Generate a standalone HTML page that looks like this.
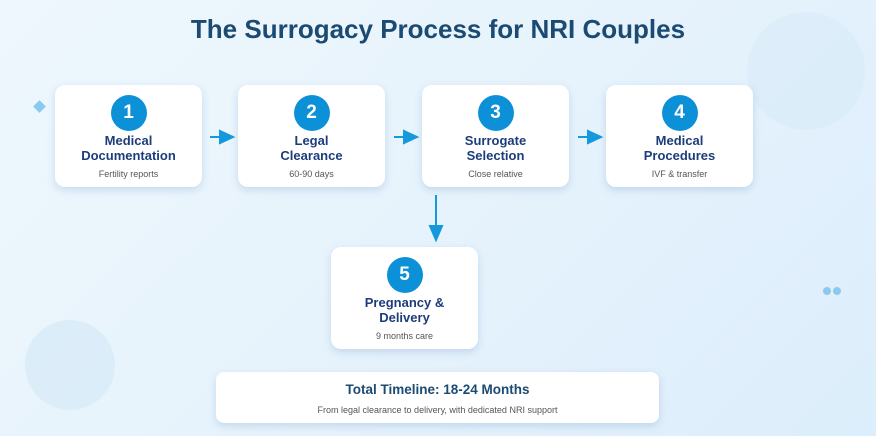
<!DOCTYPE html>
<html><head><style>
body{margin:0;width:876px;height:436px;overflow:hidden;background:linear-gradient(135deg,#eef7fd 0%,#e6f3fc 50%,#dcedfb 100%);font-family:"Liberation Sans",Arial,sans-serif;position:relative}
.t{position:absolute;top:14px;left:0;width:876px;text-align:center;font-size:26px;font-weight:bold;color:#1b4a72}
.b{position:absolute;width:147px;height:102px;background:#fff;border-radius:10px;box-shadow:0 3px 8px rgba(90,140,190,.25);text-align:center}
.c{width:36px;height:36px;border-radius:50%;background:#0c91d8;color:#fff;font-weight:bold;font-size:19px;line-height:36px;margin:10px auto 0}
.n{font-size:13px;font-weight:bold;color:#1d3d7a;line-height:15px;margin-top:2px}
.s{font-size:9px;color:#555;margin-top:6px}
.d{position:absolute;border-radius:50%;background:#d5e9f8;opacity:.7}
</style></head><body>
<div class="d" style="left:747px;top:12px;width:118px;height:118px;opacity:.45"></div>
<div class="d" style="left:25px;top:320px;width:90px;height:90px"></div>
<div style="position:absolute;left:35px;top:102px;width:9px;height:9px;background:#8cc9ef;transform:rotate(45deg)"></div>
<div style="position:absolute;left:823px;top:287px;width:8px;height:8px;border-radius:50%;background:#8cc9ef"></div>
<div style="position:absolute;left:833px;top:287px;width:8px;height:8px;border-radius:50%;background:#8cc9ef"></div>
<div class="t">The Surrogacy Process for NRI Couples</div>
<div class="b" style="left:55px;top:85px"><div class="c">1</div><div class="n">Medical<br>Documentation</div><div class="s">Fertility reports</div></div>
<div class="b" style="left:238px;top:85px"><div class="c">2</div><div class="n">Legal<br>Clearance</div><div class="s">60-90 days</div></div>
<div class="b" style="left:422px;top:85px"><div class="c">3</div><div class="n">Surrogate<br>Selection</div><div class="s">Close relative</div></div>
<div class="b" style="left:606px;top:85px"><div class="c">4</div><div class="n">Medical<br>Procedures</div><div class="s">IVF &amp; transfer</div></div>
<div class="b" style="left:331px;top:247px"><div class="c">5</div><div class="n">Pregnancy &amp;<br>Delivery</div><div class="s">9 months care</div></div>
<svg style="position:absolute;left:0;top:0" width="876" height="436">
<g fill="#1698dd" stroke="#1698dd" stroke-width="2">
<line x1="210" y1="137" x2="222" y2="137"/><polygon points="220,131 233,137 220,143"/>
<line x1="394" y1="137" x2="406" y2="137"/><polygon points="404,131 417,137 404,143"/>
<line x1="578" y1="137" x2="590" y2="137"/><polygon points="588,131 601,137 588,143"/>
<line x1="436" y1="195" x2="436" y2="228"/><polygon points="430,226 436,240 442,226"/>
</g></svg>
<div style="position:absolute;left:216px;top:372px;width:443px;height:51px;background:#fff;border-radius:8px;box-shadow:0 3px 8px rgba(90,140,190,.25);text-align:center">
<div style="font-size:13.5px;font-weight:bold;color:#1b4a72;margin-top:10px">Total Timeline: 18-24 Months</div>
<div style="font-size:9px;color:#555;margin-top:8px">From legal clearance to delivery, with dedicated NRI support</div></div>
</body></html>
